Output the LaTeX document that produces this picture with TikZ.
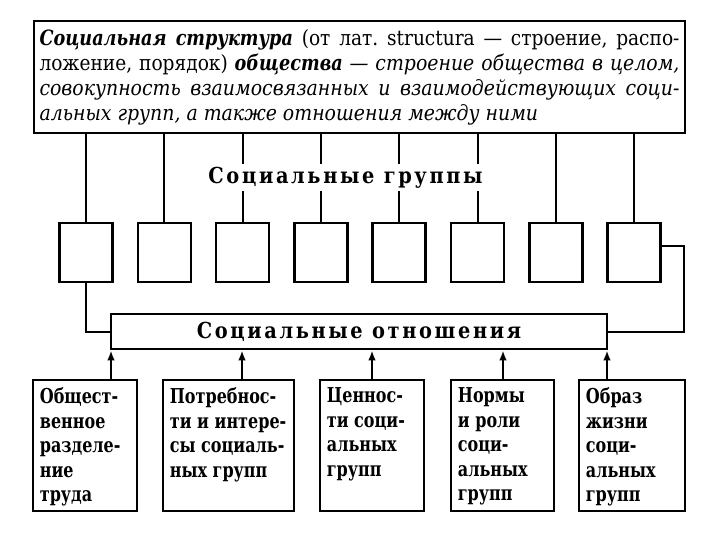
\documentclass[tikz,border=0pt]{standalone}
\usepackage{fontspec}
\setmainfont{DejaVu Serif}
\newfontfamily\bodyfont[UprightFeatures={FakeStretch=0.885},
  ItalicFeatures={FakeStretch=0.9},
  BoldItalicFeatures={FakeStretch=0.84}]{DejaVu Serif}
\newfontfamily\boxfont[FakeStretch=0.78]{DejaVu Serif}
\newfontfamily\spacedfont[LetterSpace=12,FakeStretch=0.88]{DejaVu Serif}
\usetikzlibrary{arrows.meta}
\frenchspacing
\begin{document}
\begin{tikzpicture}[x=1pt,y=-1pt,
  box/.style={draw, line width=2.6pt, inner sep=0pt},
  conn/.style={line width=2pt},
  arr/.style={line width=2pt, -{Latex[length=10pt,width=7.5pt]}},
  btext/.style={anchor=north west, inner sep=0pt, align=left, font=\boxfont\bfseries\fontsize{20.5}{24.5}\selectfont},
  head/.style={font=\spacedfont\bfseries\fontsize{22}{24}\selectfont}]
\useasboundingbox (0,0) rectangle (720,540);

% top definition box
\node[box, minimum width=651pt, minimum height=112pt, inner xsep=5.5pt, align=left,
      font=\bodyfont\fontsize{21}{25}\selectfont] (top) at (359.5,77)
  {\hbox to 640pt{\textbf{\textit{Социальная структура}} (от лат. structura — строение, распо-}\\
   \hbox to 640pt{ложение, порядок) \textbf{\textit{общества}} \textit{— строение общества в целом,}}\\
   \hbox to 640pt{\textit{совокупность взаимосвязанных и взаимодействующих соци-}}\\
   \hbox to 640pt{\textit{альных групп, а также отношения между ними}\hfil}};

% group boxes
\foreach \i/\x in {1/86,2/164.3,3/242.6,4/320.9,5/399.2,6/477.5,7/555.8,8/634.1}
  \node[box, minimum width=53pt, minimum height=59pt] (g\i) at (\x,252.5) {};
\foreach \i in {1,...,8}
  \draw[conn] (g\i.north) -- (g\i.north |- top.south);

\node[head, fill=white, inner xsep=2pt, inner ysep=0pt, minimum height=27pt] (hg) at (345.5,178) {Социальные группы};

% relations box
\node[box, head, minimum width=496pt, minimum height=35pt] (rel) at (359,331.5) {Социальные отношения};

\draw[conn] (g1.south) |- (rel.west);
\coordinate (rc) at (684,246);
\draw[conn] (g8.east |- rc) -- (rc) |- (rel.east);

% bottom boxes
\node[box, minimum width=104pt, minimum height=131pt] (b1) at (85,445.5) {};
\node[box, minimum width=131pt, minimum height=131pt] (b2) at (228.5,445.5) {};
\node[box, minimum width=104pt, minimum height=131pt] (b3) at (372,445.5) {};
\node[box, minimum width=103pt, minimum height=131pt] (b4) at (502.5,445.5) {};
\node[box, minimum width=106pt, minimum height=131pt] (b5) at (632,445.5) {};

\node[btext] (t1) at ([shift={(8,9)}]b1.north west) {Общест-\\венное\\разделе-\\ние\\труда};
\node[btext] (t2) at ([shift={(8,9)}]b2.north west) {Потребнос-\\ти и интере-\\сы социаль-\\ных групп};
\node[btext] (t3) at ([shift={(8,9)}]b3.north west) {Ценнос-\\ти соци-\\альных\\групп};
\node[btext] (t4) at ([shift={(8,9)}]b4.north west) {Нормы\\и роли\\соци-\\альных\\групп};
\node[btext] (t5) at ([shift={(8,9)}]b5.north west) {Образ\\жизни\\соци-\\альных\\групп};

% arrows
\coordinate (a1) at (111,0);
\coordinate (a2) at (242,0);
\coordinate (a3) at (372,0);
\coordinate (a4) at (503,0);
\coordinate (a5) at (607,0);
\foreach \i in {1,...,5}
  \draw[arr] (b\i.north -| a\i) -- (rel.south -| a\i);
\end{tikzpicture}
\end{document}
